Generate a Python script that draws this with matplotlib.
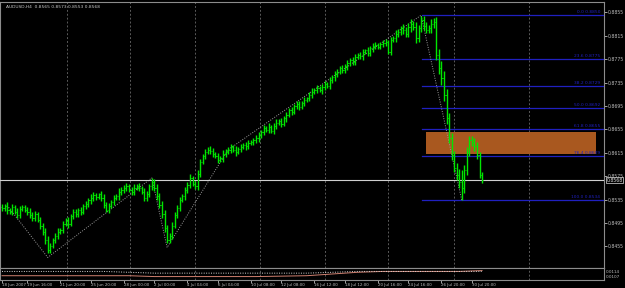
import numpy as np
import matplotlib
matplotlib.use('Agg')
import matplotlib.pyplot as plt
from matplotlib.patches import Rectangle

# H4 closes in pips (AUDUSD)
close = [8520, 8524, 8517, 8514, 8522, 8514, 8509, 8519, 8522, 8517,
         8514, 8509, 8503, 8510, 8500, 8490, 8480, 8466, 8449, 8456,
         8466, 8473, 8480, 8483, 8493, 8500, 8493, 8507, 8514, 8510,
         8517, 8514, 8524, 8527, 8534, 8538, 8543, 8539, 8544, 8538,
         8526, 8517, 8524, 8531, 8538, 8541, 8548, 8551, 8555, 8558,
         8551, 8548, 8555, 8558, 8555, 8548, 8538, 8544, 8558, 8565,
         8555, 8541, 8526, 8510, 8486, 8466, 8473, 8490, 8509, 8520,
         8534, 8541, 8551, 8560, 8572, 8562, 8558, 8579, 8599, 8609,
         8616, 8620, 8618, 8613, 8609, 8603, 8606, 8613, 8616, 8620,
         8625, 8620, 8616, 8621, 8625, 8628, 8626, 8632, 8633, 8637,
         8640, 8645, 8650, 8657, 8654, 8659, 8652, 8661, 8666, 8669,
         8664, 8674, 8679, 8688, 8685, 8695, 8698, 8693, 8700, 8705,
         8708, 8714, 8719, 8722, 8726, 8722, 8727, 8732, 8729, 8739,
         8744, 8749, 8753, 8760, 8756, 8763, 8768, 8773, 8770, 8779,
         8782, 8780, 8787, 8790, 8785, 8794, 8797, 8799, 8796, 8801,
         8802, 8804, 8787, 8808, 8811, 8818, 8821, 8828, 8825, 8818,
         8830, 8835, 8830, 8811, 8828, 8842, 8832, 8825, 8828, 8835,
         8838, 8782, 8760, 8743, 8714, 8674, 8640, 8611, 8589, 8577,
         8565, 8555, 8585, 8616, 8637, 8633, 8626, 8611, 8577, 8568]

# wick length beyond the body, pips
wick = [5, 4, 6, 3, 5, 4, 6, 5, 3, 4,
        5, 6, 4, 5, 3, 6, 5, 7, 6, 5,
        4, 5, 6, 4, 5, 3, 6, 4, 5, 5,
        4, 6, 3, 5, 4, 6, 5, 4, 3, 5,
        6, 4, 5, 3, 5, 4, 6, 5, 4, 5,
        3, 5, 6, 4, 5, 3, 6, 5, 4, 7,
        5, 6, 5, 6, 7, 6, 5, 6, 4, 5,
        5, 4, 6, 5, 6, 4, 5, 6, 5, 4,
        5, 4, 6, 5, 3, 5, 4, 6, 5, 4,
        5, 3, 6, 4, 5, 4, 6, 5, 3, 4,
        5, 6, 4, 5, 3, 6, 4, 5, 6, 4,
        5, 4, 6, 3, 5, 4, 6, 5, 4, 5,
        3, 5, 6, 4, 5, 3, 6, 5, 4, 5,
        4, 6, 5, 3, 5, 4, 6, 4, 5, 5,
        4, 5, 6, 3, 5, 4, 6, 5, 4, 3,
        6, 5, 4, 5, 3, 6, 5, 4, 7, 5,
        6, 8, 5, 9, 6, 7, 7, 6, 5, 8,
        7, 9, 10, 12, 11, 10, 9, 8, 7, 9,
        10, 20, 9, 8, 7, 6, 8, 7, 6, 5]

time_pos = [0, 10, 23, 35, 48, 60, 73, 85, 98, 110, 123, 135, 148, 160, 173, 185]
time_labels = ['18 Jun 2007', '19 Jun 16:00', '21 Jun 20:00', '25 Jun 20:00',
               '28 Jun 00:00', '2 Jul 00:00', '4 Jul 04:00', '6 Jul 04:00',
               '10 Jul 08:00', '12 Jul 08:00', '16 Jul 12:00', '18 Jul 12:00',
               '20 Jul 16:00', '24 Jul 16:00', '26 Jul 20:00', '30 Jul 20:00']
grid_pos = [25.5, 50.5, 76, 101.5, 127, 152, 178, 207.5]
price_ticks = [0.8455, 0.8495, 0.8535, 0.8575, 0.8615, 0.8655,
               0.8695, 0.8735, 0.8775, 0.8815, 0.8855]

fib_levels = [0.0, 23.6, 38.2, 50.0, 61.8, 76.4, 100.0]
fib_high = 0.8850
fib_low = 0.8534
fib_start = 165.5

zone_lo, zone_hi = 0.8613, 0.8650
zone_start, zone_end = 167, 234

zigzag_bars = [2, 18, 59, 65, 89, 165, 181]
zigzag_price = [0.8525, 0.8436, 0.8572, 0.8453, 0.8620, 0.8850, 0.8534]

# indicator sub-window
ind_bars = [0, 20, 40, 50, 60, 80, 100, 120, 130, 140, 150, 160, 170, 180, 189]
ind_main = [0.0109, 0.0109, 0.0109, 0.0109, 0.0108, 0.0108, 0.0108, 0.0109,
            0.0111, 0.0113, 0.0114, 0.0114, 0.0114, 0.0114, 0.0115]
ind_sig = [0.0114, 0.0114, 0.0114, 0.0113, 0.0112, 0.0112, 0.0112, 0.0112,
           0.0113, 0.0114, 0.0114, 0.0114, 0.0114, 0.0114, 0.0114]

c = np.array(close) / 10000.0
w = np.array(wick) / 10000.0
o = np.r_[c[0] + 0.0003, c[:-1]]
hi = np.maximum(o, c) + w
lo = np.minimum(o, c) - w
x = np.arange(len(c))

W, H = 625, 288
fig = plt.figure(figsize=(W / 100, H / 100), dpi=100, facecolor='black')
ax = fig.add_axes([0, (H - 268) / H, 604 / W, 266 / H], facecolor='black')
ax2 = fig.add_axes([0, (H - 280) / H, 604 / W, 12 / H], facecolor='black', sharex=ax)

xmin, xmax = -2 / 2.54, 602 / 2.54
ax.set_xlim(xmin, xmax)
ax.set_ylim(0.8418, 0.88726)

gray = '#8c8c8c'
for a in (ax, ax2):
    for s in a.spines.values():
        s.set_color(gray)
        s.set_linewidth(0.8)
    for g in grid_pos:
        a.axvline(g, color='#5a5a5a', lw=0.7, ls=(0, (2, 2)), zorder=1)

# demand zone
ax.add_patch(Rectangle((zone_start, zone_lo), zone_end - zone_start, zone_hi - zone_lo,
                       facecolor='#a9581f', edgecolor='none', zorder=2))

# fibonacci
fib_blue = '#2020c0'
for lv in fib_levels:
    p = fib_high - (fib_high - fib_low) * lv / 100.0
    ax.plot([fib_start, xmax], [p, p], color=fib_blue, lw=0.9, zorder=3)
    ax.text(235.5, p + 0.0002, '%.1f %.4f' % (lv, p), color=fib_blue, fontsize=3.2,
            ha='right', va='bottom', zorder=3)

# zigzag
ax.plot(zigzag_bars, zigzag_price, color='#9a9a9a', lw=0.7, ls=(0, (1, 1.5)), zorder=3)

# bid line
ax.axhline(c[-1], color='#d0d0d0', lw=0.8, zorder=3)

# bars
bar_col = '#00e600'
ax.vlines(x, lo, hi, color=bar_col, lw=1.0, zorder=4)
ax.hlines(o, x - 0.45, x, color=bar_col, lw=0.6, zorder=4)
ax.hlines(c, x, x + 0.45, color=bar_col, lw=0.6, zorder=4)

ax.text(1.5, 0.8861, 'AUDUSD,H4  0.8565 0.8573 0.8553 0.8568', color='#c8c8c8',
        fontsize=3.2, ha='left', va='bottom', zorder=5)

ax.yaxis.tick_right()
ax.set_yticks(price_ticks)
ax.set_yticklabels(['%.4f' % t for t in price_ticks])
ax.tick_params(axis='y', colors='#bdbdbd', labelsize=3.3, length=2, width=0.6, pad=0.8)
ax.tick_params(axis='x', bottom=False, labelbottom=False)
ax.annotate('%.4f' % c[-1], xy=(1.0, c[-1]), xycoords=('axes fraction', 'data'),
            xytext=(2, 0), textcoords='offset points', color='#e0e0e0', fontsize=3.3,
            va='center', ha='left', annotation_clip=False,
            bbox=dict(boxstyle='square,pad=0.1', fc='black', ec='#e0e0e0', lw=0.5))

# indicator window
ax2.set_ylim(0.0104, 0.0118)
ax2.plot(ind_bars, ind_main, color='#d08070', lw=0.7)
ax2.plot(ind_bars, ind_sig, color='#d8d8d8', lw=0.7, ls=(0, (1, 1.5)))
ax2.yaxis.tick_right()
ax2.set_yticks([0.0108, 0.0114])
ax2.set_yticklabels(['0.0107', '0.0114'])
ax2.tick_params(axis='y', colors='#bdbdbd', labelsize=3.0, length=0, pad=1.5)
ax2.set_xticks(time_pos)
ax2.set_xticklabels(time_labels, ha='left')
ax2.tick_params(axis='x', colors='#bdbdbd', labelsize=2.9, length=2, width=0.6, pad=0.5)

fig.savefig('out.png', dpi=100, facecolor='black')
